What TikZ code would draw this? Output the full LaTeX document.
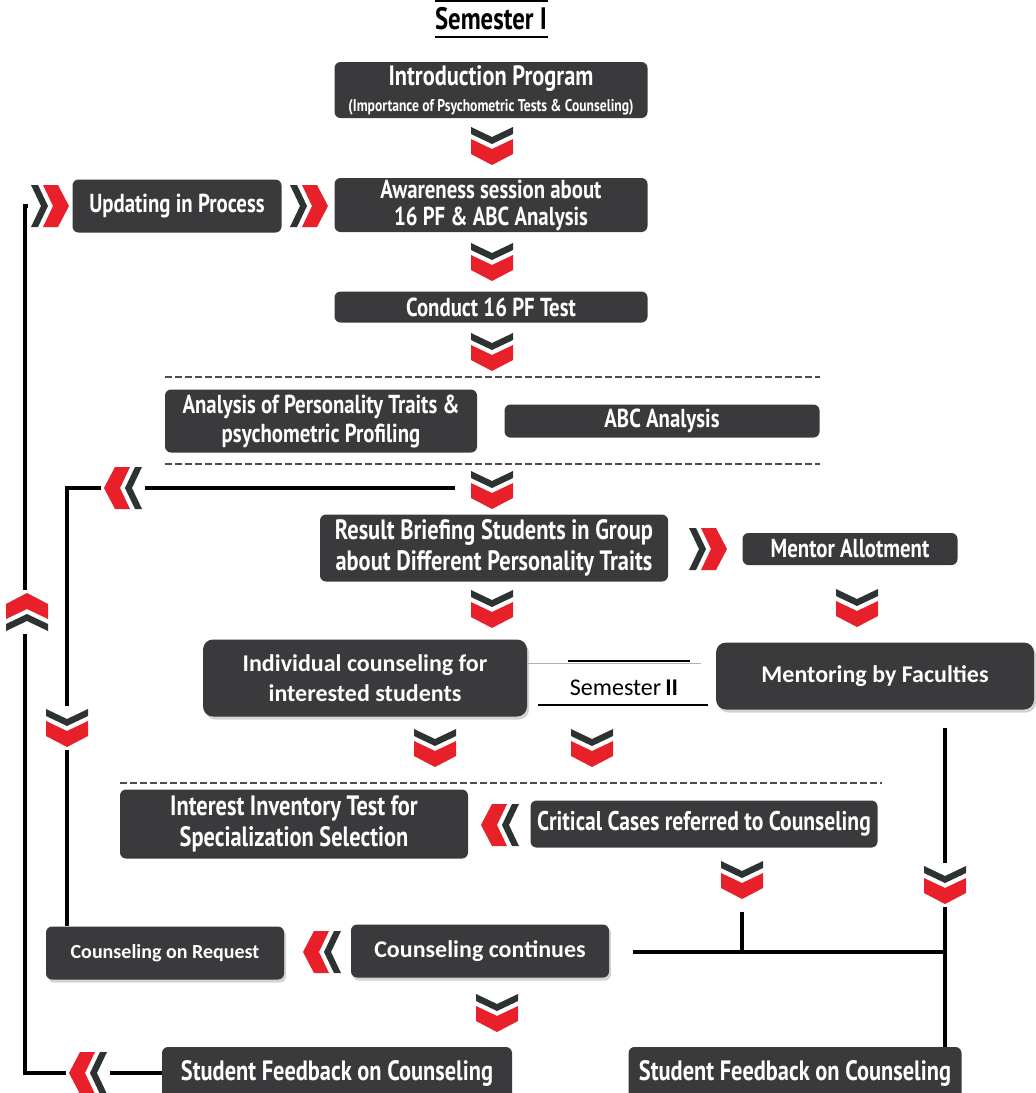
\documentclass[tikz,border=0pt]{standalone}
\usepackage{fontspec}
\setmainfont{PT Sans}
\newfontfamily\condfont[FakeStretch=0.8]{PT Sans}
\newfontfamily\califont{Carlito}
\usetikzlibrary{shadows}

\definecolor{boxgray}{HTML}{3A3A3C}
\definecolor{chevred}{HTML}{E8202A}
\definecolor{chevdark}{HTML}{2C3330}

\begin{document}
\begin{tikzpicture}[x=1pt,y=-1pt,
  box/.style={fill=boxgray,rounded corners=6pt,text=white,align=center,inner sep=0pt,
    font=\condfont\bfseries\fontsize{26}{27}\selectfont},
  big box/.style={box,font=\condfont\bfseries\fontsize{28}{31}\selectfont},
  soft box/.style={box,rounded corners=10pt,font=\califont\bfseries\fontsize{24}{30}\selectfont,
    drop shadow={opacity=0.35,shadow xshift=2pt,shadow yshift=-3pt}},
  line/.style={line width=4pt},
  cut/.style={draw=black!70,line width=2pt,dash pattern=on 7pt off 3pt},
  chev/.pic={
    \fill[white] (-23,-22) rectangle (23,22);
    \fill[chevdark] (-21,-19) -- (0,-9) -- (21,-19) -- (21,-12) -- (0,-2) -- (-21,-12) -- cycle;
    \fill[chevred] (-21,-7) -- (0,3) -- (21,-7) -- (21,8) -- (0,19) -- (-21,8) -- cycle;
  }]

  \useasboundingbox (0,0) rectangle (1036,1093);
  \clip (0,0) rectangle (1036,1093);

  % semester I
  \node[font=\condfont\bfseries\fontsize{31}{33}\selectfont] (sem1) at (491,19) {Semester I};
  \draw[line width=2.5pt] (435,1) -- (548,1);
  \draw[line width=2.5pt] (435,37) -- (548,37);

  \node[box,minimum width=313pt,minimum height=56pt] (intro) at (491,90)
    {{\fontsize{28}{28}\selectfont Introduction Program}\\[-1pt]
     {\fontsize{17}{18}\selectfont (Importance of Psychometric Tests \& Counseling)}};
  \node[box,minimum width=209pt,minimum height=53pt] (update) at (177,206) {Updating in Process};
  \node[box,minimum width=313pt,minimum height=54pt] (aware) at (491,205)
    {Awareness session about\\16 PF \& ABC Analysis};
  \node[box,minimum width=313pt,minimum height=31pt] (conduct) at (491,307) {Conduct 16 PF Test};

  \draw[cut] (165,377) -- (820,377);
  \node[box,minimum width=312pt,minimum height=63pt,font=\condfont\bfseries\fontsize{26}{29}\selectfont] (analysis) at (321,421)
    {Analysis of Personality Traits \&\\psychometric Profiling};
  \node[box,minimum width=315pt,minimum height=33pt] (abc) at (662,421) {ABC Analysis};
  \draw[cut] (165,464) -- (820,464);

  \node[big box,minimum width=348pt,minimum height=67pt] (result) at (494,548)
    {Result Briefing Students in Group\\about Different Personality Traits};
  \node[box,minimum width=215pt,minimum height=32pt] (mentor) at (850,549) {Mentor Allotment};

  \node[soft box,minimum width=324pt,minimum height=77pt] (indiv) at (365,678)
    {Individual counseling for\\interested students};
  \node[soft box,minimum width=318pt,minimum height=67pt] (mentoring) at (875,676) {Mentoring by Faculties};

  % semester II
  \node[font=\califont\fontsize{24}{26}\selectfont] (sem2) at (624,688) {Semester\,\textbf{II}};
  \draw[black!30,line width=1pt] (indiv.east |- 0,663) -- (701,663);
  \draw[line width=2pt] (568,661) -- (690,661);
  \draw[line width=2pt] (538,705) -- (708,705);

  \draw[cut] (120,783) -- (882,783);
  \node[big box,minimum width=348pt,minimum height=69pt] (interest) at (294,824)
    {Interest Inventory Test for\\Specialization Selection};
  \node[big box,minimum width=347pt,minimum height=47pt,font=\condfont\bfseries\fontsize{27}{30}\selectfont] (critical) at (704,824)
    {Critical Cases referred to Counseling};

  \node[soft box,minimum width=238pt,minimum height=53pt,rounded corners=6pt,font=\califont\bfseries\fontsize{20}{22}\selectfont] (request) at (165,953)
    {Counseling on Request};
  \node[soft box,minimum width=258pt,minimum height=53pt,rounded corners=6pt] (continues) at (480,951)
    {Counseling continues};

  \node[big box,minimum width=350pt,minimum height=52pt] (feedL) at (337,1073)
    {Student Feedback on Counseling};
  \node[big box,minimum width=333pt,minimum height=52pt] (feedR) at (795,1073)
    {Student Feedback on Counseling};

  % connectors
  \coordinate (tl) at (25,206);
  \coordinate (stub) at (34,206);
  \coordinate (cD) at (455,488);
  \coordinate (lb) at (67,488);
  \coordinate (rt) at (945,728);
  \coordinate (jw) at (633,952);
  \coordinate (iv) at (742,912);

  \draw[line] (feedL.west) -- (feedL.west -| tl) -- (tl) -- (stub);
  \draw[line] (cD) -- (lb) -- (lb |- request.north);
  \draw[line] (rt) -- (rt |- feedR.north);
  \draw[line] (jw) -- (jw -| rt);
  \draw[line] (iv) -- (iv |- jw);

  % chevrons
  \pic at (492,146) {chev};
  \pic at (492,262) {chev};
  \pic at (492,352) {chev};
  \pic at (492,490) {chev};
  \pic at (492,609) {chev};
  \pic at (857,608) {chev};
  \pic at (435,748) {chev};
  \pic at (592,748) {chev};
  \pic at (742,880) {chev};
  \pic at (945,885) {chev};
  \pic at (497,1013) {chev};
  \pic at (67,728) {chev};
  \pic[rotate=90] at (309,206) {chev};
  \pic[rotate=90] at (50,206) {chev};
  \pic[rotate=90] at (708,549) {chev};
  \pic[rotate=-90] at (123,488) {chev};
  \pic[rotate=-90] at (500,825) {chev};
  \pic[rotate=-90] at (322,952) {chev};
  \pic[rotate=-90] at (88,1073) {chev};
  \pic[rotate=180] at (27,612) {chev};
\end{tikzpicture}
\end{document}
